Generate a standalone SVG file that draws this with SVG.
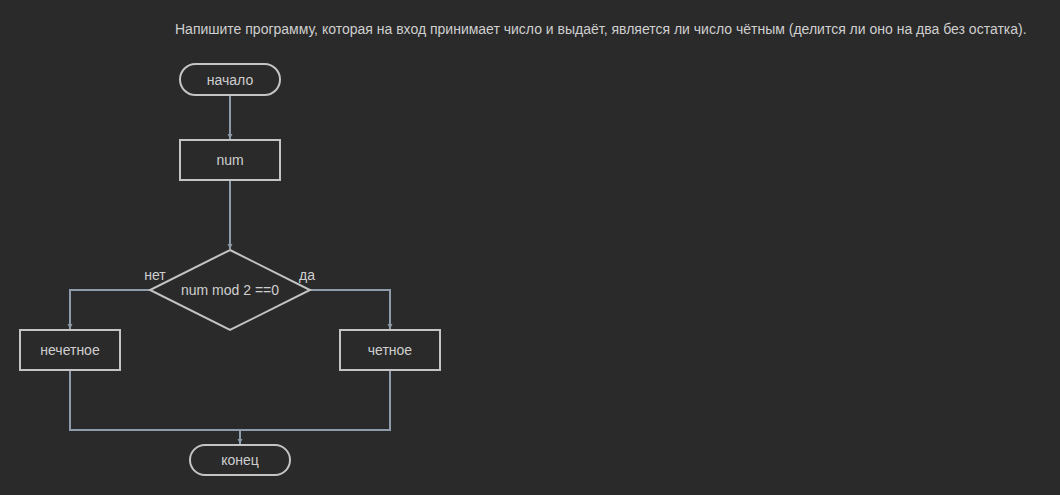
<svg xmlns="http://www.w3.org/2000/svg" width="1060" height="495" viewBox="0 0 1060 495">
  <style>
    .shape { fill: none; stroke: #c4c4c4; stroke-width: 2; }
    .label { font-family: "Liberation Sans", Arial, sans-serif; font-size: 14px; fill: #cfcfcf; text-anchor: middle; dominant-baseline: central; }
    .title { font-family: "Liberation Sans", Arial, sans-serif; font-size: 14px; fill: #cfcfcf; }
    .edge { fill: none; stroke: #8d9bab; stroke-width: 2; }
  </style>
  <defs>
    <marker id="arrow" markerWidth="6" markerHeight="6" refX="5" refY="3" orient="auto" markerUnits="userSpaceOnUse">
      <path d="M0,0.5 L5,3 L0,5.5 Z" fill="#8d9bab"/>
    </marker>
  </defs>
  <rect width="1060" height="495" fill="#2a2a2a"/>

  <text class="title" x="175" y="34">Напишите программу, которая на вход принимает число и выдаёт, является ли число чётным (делится ли оно на два без остатка).</text>

  <g id="connectors">
    <path class="edge" d="M230,95 V139" marker-end="url(#arrow)"/>
    <path class="edge" d="M230,180 V249" marker-end="url(#arrow)"/>
    <path class="edge" d="M150,290 H70 V329" marker-end="url(#arrow)"/>
    <path class="edge" d="M310,290 H390 V329" marker-end="url(#arrow)"/>
    <path class="edge" d="M70,370 V430 H390 V370"/>
    <path class="edge" d="M240,430 V444" marker-end="url(#arrow)"/>
    <text class="label" x="155" y="275">нет</text>
    <text class="label" x="307" y="275">да</text>
  </g>

  <g id="start">
    <rect class="shape" x="180" y="64" width="100" height="31" rx="15.5"/>
    <text class="label" x="230" y="79.5">начало</text>
  </g>
  <g id="input">
    <rect class="shape" x="180" y="140" width="100" height="40"/>
    <text class="label" x="230" y="160">num</text>
  </g>
  <g id="check">
    <path class="shape" d="M230,250 L310,290 L230,330 L150,290 Z"/>
    <text class="label" x="230" y="290">num mod 2 ==0</text>
  </g>
  <g id="odd">
    <rect class="shape" x="20" y="330" width="100" height="40"/>
    <text class="label" x="70" y="350">нечетное</text>
  </g>
  <g id="even">
    <rect class="shape" x="340" y="330" width="100" height="40"/>
    <text class="label" x="390" y="350">четное</text>
  </g>
  <g id="end">
    <rect class="shape" x="190" y="445" width="100" height="30" rx="15"/>
    <text class="label" x="240" y="460">конец</text>
  </g>
</svg>
